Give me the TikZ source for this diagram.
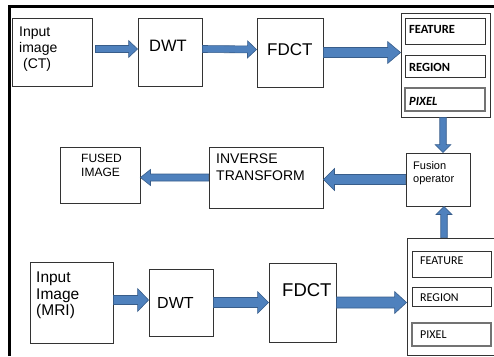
\documentclass[tikz,border=0pt]{standalone}
\usepackage{fontspec}
\setmainfont{Liberation Sans}
\newfontfamily\calfont{Carlito}
\usetikzlibrary{calc,fit,positioning}

\definecolor{arrowblue}{RGB}{79,129,189}
\definecolor{arrowedge}{RGB}{56,93,138}

\tikzset{
  blk/.style={draw=black!80, line width=0.9pt, inner sep=0pt},
  pixblk/.style={draw=black!55, line width=1.3pt, inner sep=0pt},
  txt/.style={anchor=north west, inner sep=0pt, align=left},
  arrowfill/.style={fill=arrowblue, draw=arrowedge, line width=0.6pt, line join=miter},
}

% block arrow: start, end, half shaft, half head, head length
\newcommand{\blockarrow}[5]{%
  \coordinate (ba-s) at (#1);
  \coordinate (ba-e) at (#2);
  \coordinate (ba-h) at ($(ba-e)!#5!(ba-s)$);
  \filldraw[arrowfill] ($(ba-s)!#3!-90:(ba-e)$) -- ($(ba-h)!#3!-90:(ba-e)$)
    -- ($(ba-h)!#4!-90:(ba-e)$) -- (ba-e) -- ($(ba-h)!#4!90:(ba-e)$)
    -- ($(ba-h)!#3!90:(ba-e)$) -- ($(ba-s)!#3!90:(ba-e)$) -- cycle;}

\begin{document}
\begin{tikzpicture}[x=1pt,y=-1pt]
 \clip (0,0) rectangle (494,356);
 \draw[line width=3pt] (9.5,356) -- (9.5,6) -- (494,6);

 % top row (CT)
 \node[blk, fit={(12,18) (92,86)}] (ct) {};
 \node[blk, fit={(138,18) (202,86)}] (dwta) {};
 \node[blk, fit={(257,18) (323,87)}] (fdcta) {};
 \node[blk, fit={(401,13) (490,117)}] (grpa) {};
 \node[blk, fit={(405,18) (485,44)}] (feata) {};
 \node[blk, fit={(405,55) (485,77)}] (rega) {};
 \node[pixblk, fit={(405,88) (485,111)}] (pixa) {};

 % middle row
 \node[blk, fit={(406,153) (470,206)}] (fusion) {};
 \node[blk, fit={(209,147) (323,208)}] (inv) {};
 \node[blk, fit={(60,147) (140,203)}] (fused) {};

 % bottom row (MRI)
 \node[blk, fit={(30,262) (113,343)}] (mri) {};
 \node[blk, fit={(149,269) (213,336)}] (dwtb) {};
 \node[blk, fit={(269,263) (336,342)}] (fdctb) {};
 \node[blk, fit={(407,238) (500,355)}] (grpb) {};
 \node[blk, fit={(412,251) (491,277)}] (featb) {};
 \node[blk, fit={(412,287) (491,306)}] (regb) {};
 \node[pixblk, fit={(412,323) (491,346)}] (pixb) {};

 % texts
 \node[txt, font=\fontsize{14}{16}\selectfont] (cttxt) at (19,27) {Input\\image\\\ (CT)};
 \node[txt, font=\fontsize{16.5}{18}\selectfont] (dwtatxt) at (149,40) {DWT};
 \node[txt, font=\fontsize{17}{19}\selectfont] (fdctatxt) at (267,43) {FDCT};
 \node[txt, font=\calfont\bfseries\fontsize{12.5}{14}\selectfont] (featatxt) at (409,25) {FEATURE};
 \node[txt, font=\calfont\bfseries\fontsize{12.5}{14}\selectfont] (regatxt) at (409,63) {REGION};
 \node[txt, font=\calfont\bfseries\itshape\fontsize{12.5}{14}\selectfont] (pixatxt) at (409,97) {PIXEL};
 \node[txt, font=\fontsize{11}{13}\selectfont] (fusiontxt) at (413,161) {Fusion\\operator};
 \node[txt, font=\fontsize{14}{17}\selectfont] (invtxt) at (216,154) {INVERSE\\TRANSFORM};
 \node[txt, font=\fontsize{12}{14}\selectfont] (fusedtxt) at (81,154) {FUSED\\IMAGE};
 \node[txt, font=\fontsize{15.5}{16.5}\selectfont] (mritxt) at (36,272) {Input\\Image\\(MRI)};
 \node[txt, font=\fontsize{16}{18}\selectfont] (dwtbtxt) at (157,297) {DWT};
 \node[txt, font=\fontsize{18.5}{20}\selectfont] (fdctbtxt) at (282,283) {FDCT};
 \node[txt, font=\calfont\fontsize{12}{14}\selectfont] (featbtxt) at (420,257) {FEATURE};
 \node[txt, font=\calfont\fontsize{12}{14}\selectfont] (regbtxt) at (420,294) {REGION};
 \node[txt, font=\calfont\fontsize{12}{14}\selectfont] (pixbtxt) at (420,331) {PIXEL};

 % arrows
 \blockarrow{$(ct.east)+(3,-3)$}{$(dwta.west)+(0,-3)$}{3.5pt}{8.5pt}{9pt}
 \blockarrow{$(dwta.east)+(0,-3)$}{$(fdcta.west)+(0,-3)$}{3.5pt}{8.5pt}{9pt}
 \blockarrow{fdcta.east}{fdcta.east -| grpa.west}{5pt}{11pt}{13pt}
 \blockarrow{$(grpa.south)+(-2.5,0)$}{$(grpa.south |- fusion.north)+(-2.5,0)$}{3.25pt}{8pt}{8pt}
 \blockarrow{fusion.west}{fusion.west -| inv.east}{5pt}{11pt}{11pt}
 \blockarrow{inv.west}{inv.west -| fused.east}{3.5pt}{8pt}{10pt}
 \blockarrow{$(grpa.south |- grpb.north)+(-1.5,0)$}{$(grpa.south |- fusion.south)+(-1.5,0)$}{3.25pt}{8pt}{8pt}
 \blockarrow{$(mri.east)+(0,-2.5)$}{$(dwtb.west)+(0,-2.5)$}{4.5pt}{11.5pt}{11pt}
 \blockarrow{dwtb.east}{fdctb.west}{5pt}{11pt}{11pt}
 \blockarrow{fdctb.east}{fdctb.east -| grpb.west}{5.5pt}{11pt}{12pt}
\end{tikzpicture}
\end{document}
